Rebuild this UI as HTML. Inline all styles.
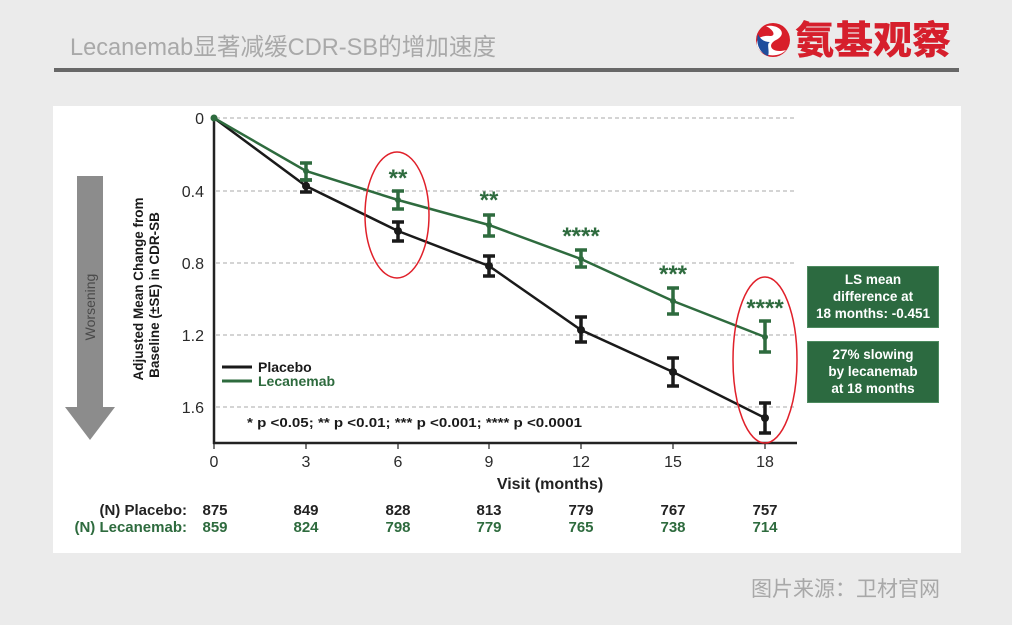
<!DOCTYPE html>
<html><head><meta charset="utf-8"><style>
html,body{margin:0;padding:0;background:#ececec;}
svg{display:block;}
</style></head><body>
<svg width="1012" height="625" viewBox="0 0 1012 625" xmlns="http://www.w3.org/2000/svg" font-family="'Liberation Sans','Noto Sans CJK SC',sans-serif">
<rect x="0" y="0" width="1012" height="625" fill="#ebebeb"/>
<!-- title -->
<text x="70" y="55" font-size="23.6" fill="#a9a9a9">Lecanemab显著减缓CDR-SB的增加速度</text>
<!-- logo -->
<g>
<circle cx="773" cy="40" r="17" fill="#d81e2a"/>
<path d="M766 26 C780 24 788 34 776 40 C766 45 772 54 786 50 C780 57 764 58 758 48 C754 40 760 35 770 36 C776 36 774 30 766 26 Z" fill="#ffffff"/>
<path d="M758 34 C756 42 758 52 768 56 C770 50 766 44 770 42 C764 42 760 39 758 34 Z" fill="#1f4d9c"/>
<text x="795" y="54" font-size="39" font-weight="900" fill="#d61f2c" font-family="'Noto Sans CJK SC',sans-serif">氨基观察</text>
</g>
<rect x="54" y="68" width="905" height="4" fill="#676767"/>
<!-- white panel -->
<rect x="53" y="106" width="908" height="447" fill="#ffffff"/>
<!-- gridlines -->
<g stroke="#a8a8a8" stroke-width="1" stroke-dasharray="4 3">
<line x1="216" y1="118" x2="796" y2="118"/>
<line x1="216" y1="191" x2="796" y2="191"/>
<line x1="216" y1="263" x2="796" y2="263"/>
<line x1="216" y1="335" x2="796" y2="335"/>
<line x1="216" y1="407" x2="796" y2="407"/>
</g>
<!-- axes -->
<line x1="214" y1="117" x2="214" y2="444" stroke="#222" stroke-width="2.5"/>
<line x1="213" y1="443" x2="797" y2="443" stroke="#222" stroke-width="2.5"/>
<g stroke="#222" stroke-width="1.2">
<line x1="214" y1="443" x2="214" y2="449"/>
<line x1="306" y1="443" x2="306" y2="449"/>
<line x1="398" y1="443" x2="398" y2="449"/>
<line x1="489" y1="443" x2="489" y2="449"/>
<line x1="581" y1="443" x2="581" y2="449"/>
<line x1="673" y1="443" x2="673" y2="449"/>
<line x1="765" y1="443" x2="765" y2="449"/>
</g>
<!-- y tick labels -->
<g font-size="16" fill="#2a2a2a" text-anchor="end">
<text x="204" y="124">0</text>
<text x="204" y="197">0.4</text>
<text x="204" y="269">0.8</text>
<text x="204" y="341">1.2</text>
<text x="204" y="413">1.6</text>
</g>
<!-- x tick labels -->
<g font-size="16" fill="#2a2a2a" text-anchor="middle">
<text x="214" y="467">0</text>
<text x="306" y="467">3</text>
<text x="398" y="467">6</text>
<text x="489" y="467">9</text>
<text x="581" y="467">12</text>
<text x="673" y="467">15</text>
<text x="765" y="467">18</text>
</g>
<text x="550" y="489" font-size="16" font-weight="bold" fill="#222" text-anchor="middle">Visit (months)</text>
<!-- N rows -->
<g font-size="15" font-weight="bold">
<text x="187" y="515" fill="#222" text-anchor="end">(N) Placebo:</text>
<text x="187" y="532" fill="#2e6b3e" text-anchor="end">(N) Lecanemab:</text>
<g fill="#222" text-anchor="middle">
<text x="215" y="515">875</text><text x="306" y="515">849</text><text x="398" y="515">828</text><text x="489" y="515">813</text><text x="581" y="515">779</text><text x="673" y="515">767</text><text x="765" y="515">757</text>
</g>
<g fill="#2e6b3e" text-anchor="middle">
<text x="215" y="532">859</text><text x="306" y="532">824</text><text x="398" y="532">798</text><text x="489" y="532">779</text><text x="581" y="532">765</text><text x="673" y="532">738</text><text x="765" y="532">714</text>
</g>
</g>
<!-- worsening arrow -->
<rect x="77" y="176" width="26" height="232" fill="#8c8c8c"/>
<polygon points="65,407 115,407 90,440" fill="#8c8c8c"/>
<text transform="translate(95,307) rotate(-90)" font-size="14" fill="#4a4a4a" text-anchor="middle">Worsening</text>
<!-- y axis title -->
<g font-size="13.5" font-weight="bold" fill="#1a1a1a" text-anchor="middle">
<text transform="translate(143,289) rotate(-90)">Adjusted Mean Change from</text>
<text transform="translate(159,295) rotate(-90)">Baseline (±SE) in CDR-SB</text>
</g>
<!-- placebo series -->
<polyline points="214,118 306,186 398,231 489,266 581,330 673,372 765,418" fill="none" stroke="#1a1a1a" stroke-width="2.5"/>
<g stroke="#1a1a1a" stroke-width="3.5" fill="none">
<path d="M306 180 V192 M300 180 H312 M300 192 H312"/>
<path d="M398 222 V241 M392 222 H404 M392 241 H404"/>
<path d="M489 256 V276 M483 256 H495 M483 276 H495"/>
<path d="M581 317 V342 M575 317 H587 M575 342 H587"/>
<path d="M673 358 V386 M667 358 H679 M667 386 H679"/>
<path d="M765 403 V433 M759 403 H771 M759 433 H771"/>
</g>
<g fill="#1a1a1a">
<circle cx="306" cy="186" r="4"/><circle cx="398" cy="231" r="4"/><circle cx="489" cy="266" r="4"/><circle cx="581" cy="330" r="4"/><circle cx="673" cy="372" r="4"/><circle cx="765" cy="418" r="4"/>
</g>
<!-- lecanemab series -->
<polyline points="214,118 306,171 398,200 489,225 581,259 673,301 765,337" fill="none" stroke="#2e6b3e" stroke-width="2.5"/>
<g stroke="#2e6b3e" stroke-width="3.5" fill="none">
<path d="M306 163 V180 M300 163 H312 M300 180 H312"/>
<path d="M398 191 V209 M392 191 H404 M392 209 H404"/>
<path d="M489 215 V236 M483 215 H495 M483 236 H495"/>
<path d="M581 250 V267 M575 250 H587 M575 267 H587"/>
<path d="M673 288 V314 M667 288 H679 M667 314 H679"/>
<path d="M765 321 V352 M759 321 H771 M759 352 H771"/>
</g>
<g fill="#2e6b3e">
<circle cx="214" cy="118" r="3.5"/>
<circle cx="306" cy="171" r="3"/><circle cx="398" cy="200" r="3"/><circle cx="489" cy="225" r="3"/><circle cx="581" cy="259" r="3"/><circle cx="673" cy="301" r="3"/><circle cx="765" cy="337" r="3"/>
</g>
<!-- stars -->
<g font-size="24" font-weight="bold" fill="#2e6b3e" text-anchor="middle">
<text x="398" y="186">**</text>
<text x="489" y="208">**</text>
<text x="581" y="244">****</text>
<text x="673" y="282">***</text>
<text x="765" y="316">****</text>
</g>
<!-- legend -->
<line x1="222" y1="367" x2="252" y2="367" stroke="#1a1a1a" stroke-width="3"/>
<line x1="222" y1="381" x2="252" y2="381" stroke="#2e6b3e" stroke-width="3"/>
<text x="258" y="372" font-size="14" font-weight="bold" fill="#1a1a1a">Placebo</text>
<text x="258" y="386" font-size="14" font-weight="bold" fill="#2e6b3e">Lecanemab</text>
<!-- footnote -->
<text x="247" y="427" font-size="13" font-weight="bold" fill="#1a1a1a" textLength="335" lengthAdjust="spacingAndGlyphs">* p &lt;0.05; ** p &lt;0.01; *** p &lt;0.001; **** p &lt;0.0001</text>
<!-- red ellipses -->
<ellipse cx="397" cy="215" rx="32" ry="63" fill="none" stroke="#e0202a" stroke-width="1.5"/>
<ellipse cx="765" cy="360" rx="32" ry="83" fill="none" stroke="#e0202a" stroke-width="1.5"/>
<!-- green boxes -->
<rect x="807.5" y="266.5" width="131" height="61" fill="#2c6a40" stroke="#4d8a5f" stroke-width="1"/>
<rect x="807.5" y="341.5" width="131" height="61" fill="#2c6a40" stroke="#4d8a5f" stroke-width="1"/>
<g font-size="13.5" font-weight="bold" fill="#ffffff" text-anchor="middle">
<text x="873" y="284">LS mean</text>
<text x="873" y="301">difference at</text>
<text x="873" y="318">18 months: -0.451</text>
<text x="873" y="359">27% slowing</text>
<text x="873" y="376">by lecanemab</text>
<text x="873" y="393">at 18 months</text>
</g>
<!-- source -->
<text x="751" y="596" font-size="21" fill="#a8a8a8">图片来源：卫材官网</text>
</svg>
</body></html>
